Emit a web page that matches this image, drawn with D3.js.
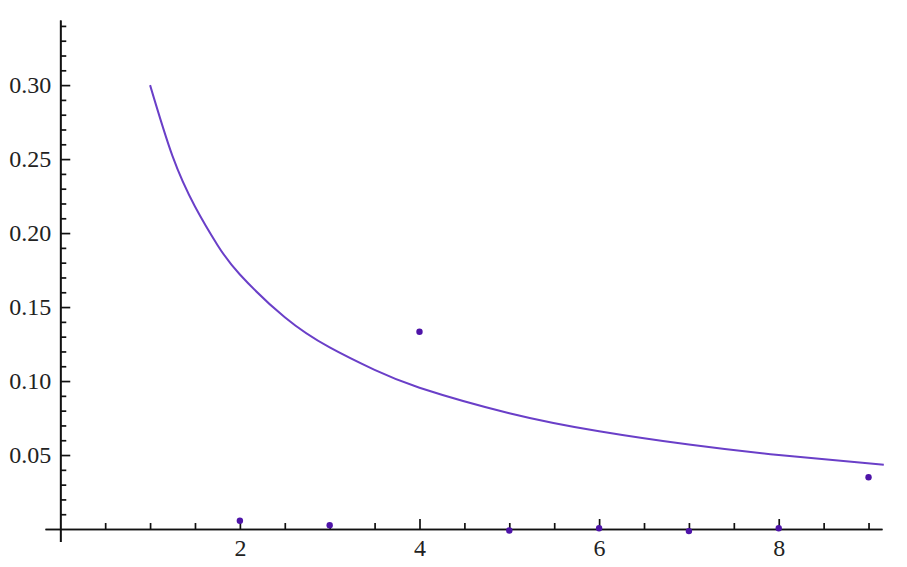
<!DOCTYPE html>
<html>
<head>
<meta charset="utf-8">
<script src="https://cdn.jsdelivr.net/npm/d3@7"></script>
<style>
  html, body { margin: 0; padding: 0; background: #fff; }
  svg { display: block; }
</style>
</head>
<body>
<svg id="chart" width="907" height="567"></svg>
<script>
// ---- data ----
const curveX = [1, 1.25, 1.5, 1.75, 2, 2.5, 3, 3.5, 4, 5, 6, 7, 8, 9.17];
const curveY = [0.300, 0.252, 0.218, 0.192, 0.172, 0.1431, 0.1227, 0.1075, 0.0955, 0.0783, 0.0661, 0.0571, 0.0500, 0.0434];
const pointX = [2, 3, 4, 5, 6, 7, 8, 9];
const pointY = [0.0056, 0.0025, 0.1333, -0.001, 0.0005, -0.0014, 0.0005, 0.035];
const xMajorTicks = [2, 4, 6, 8];
const xMajorLabels = ["2", "4", "6", "8"];
const xMinorTicks = [0.5, 1, 1.5, 2.5, 3, 3.5, 4.5, 5, 5.5, 6.5, 7, 7.5, 8.5, 9];
const yMajorTicks = [0.05, 0.10, 0.15, 0.20, 0.25, 0.30];
const yMajorLabels = ["0.05", "0.10", "0.15", "0.20", "0.25", "0.30"];
const yMinorTicks = [0.01,0.02,0.03,0.04,0.06,0.07,0.08,0.09,0.11,0.12,0.13,0.14,0.16,0.17,0.18,0.19,0.21,0.22,0.23,0.24,0.26,0.27,0.28,0.29,0.31,0.32,0.33,0.34];

const curveColor = "#6a3fc8";
const pointColor = "#4e14a8";

const svg = d3.select("#chart");
const x = d3.scaleLinear().domain([-0.17, 9.15]).range([45, 882]);
const y = d3.scaleLinear().domain([-0.0085, 0.344]).range([541.6, 20]);

const font = "'Liberation Serif', 'DejaVu Serif', serif";

// x axis (through y = 0)
const gx = svg.append("g").attr("transform", `translate(0,${y(0)})`);
gx.call(d3.axisBottom(x).tickValues(xMinorTicks).tickFormat("").tickSize(-6).tickSizeOuter(0));
const gxM = svg.append("g").attr("transform", `translate(0,${y(0)})`);
gxM.call(d3.axisBottom(x).tickValues(xMajorTicks)
  .tickFormat((d, i) => xMajorLabels[i]).tickSize(-10).tickSizeOuter(0).tickPadding(10));

// y axis (through x = 0)
const gy = svg.append("g").attr("transform", `translate(${x(0)},0)`);
gy.call(d3.axisLeft(y).tickValues(yMinorTicks).tickFormat("").tickSize(-6).tickSizeOuter(0));
const gyM = svg.append("g").attr("transform", `translate(${x(0)},0)`);
gyM.call(d3.axisLeft(y).tickValues(yMajorTicks)
  .tickFormat((d, i) => yMajorLabels[i]).tickSize(-10).tickSizeOuter(0).tickPadding(9));

[gx, gxM, gy, gyM].forEach(g => {
  g.selectAll(".domain").attr("stroke", "#111").attr("stroke-width", 1.7);
  g.selectAll(".tick line").attr("stroke", "#111").attr("stroke-width", 1.7);
  g.selectAll(".tick text").attr("fill", "#222").style("font-family", font).style("font-size", "24px");
});

// Curve
const line = d3.line().x(d => x(d[0])).y(d => y(d[1])).curve(d3.curveNatural);
svg.append("path")
  .datum(curveX.map((v, i) => [v, curveY[i]]))
  .attr("d", line)
  .attr("fill", "none")
  .attr("stroke", curveColor)
  .attr("stroke-width", 2);

// Points
svg.append("g").selectAll("circle")
  .data(pointX.map((v, i) => [v, pointY[i]]))
  .join("circle")
  .attr("cx", d => x(d[0]))
  .attr("cy", d => y(d[1]))
  .attr("r", 3.2)
  .attr("fill", pointColor);
</script>
</body>
</html>
